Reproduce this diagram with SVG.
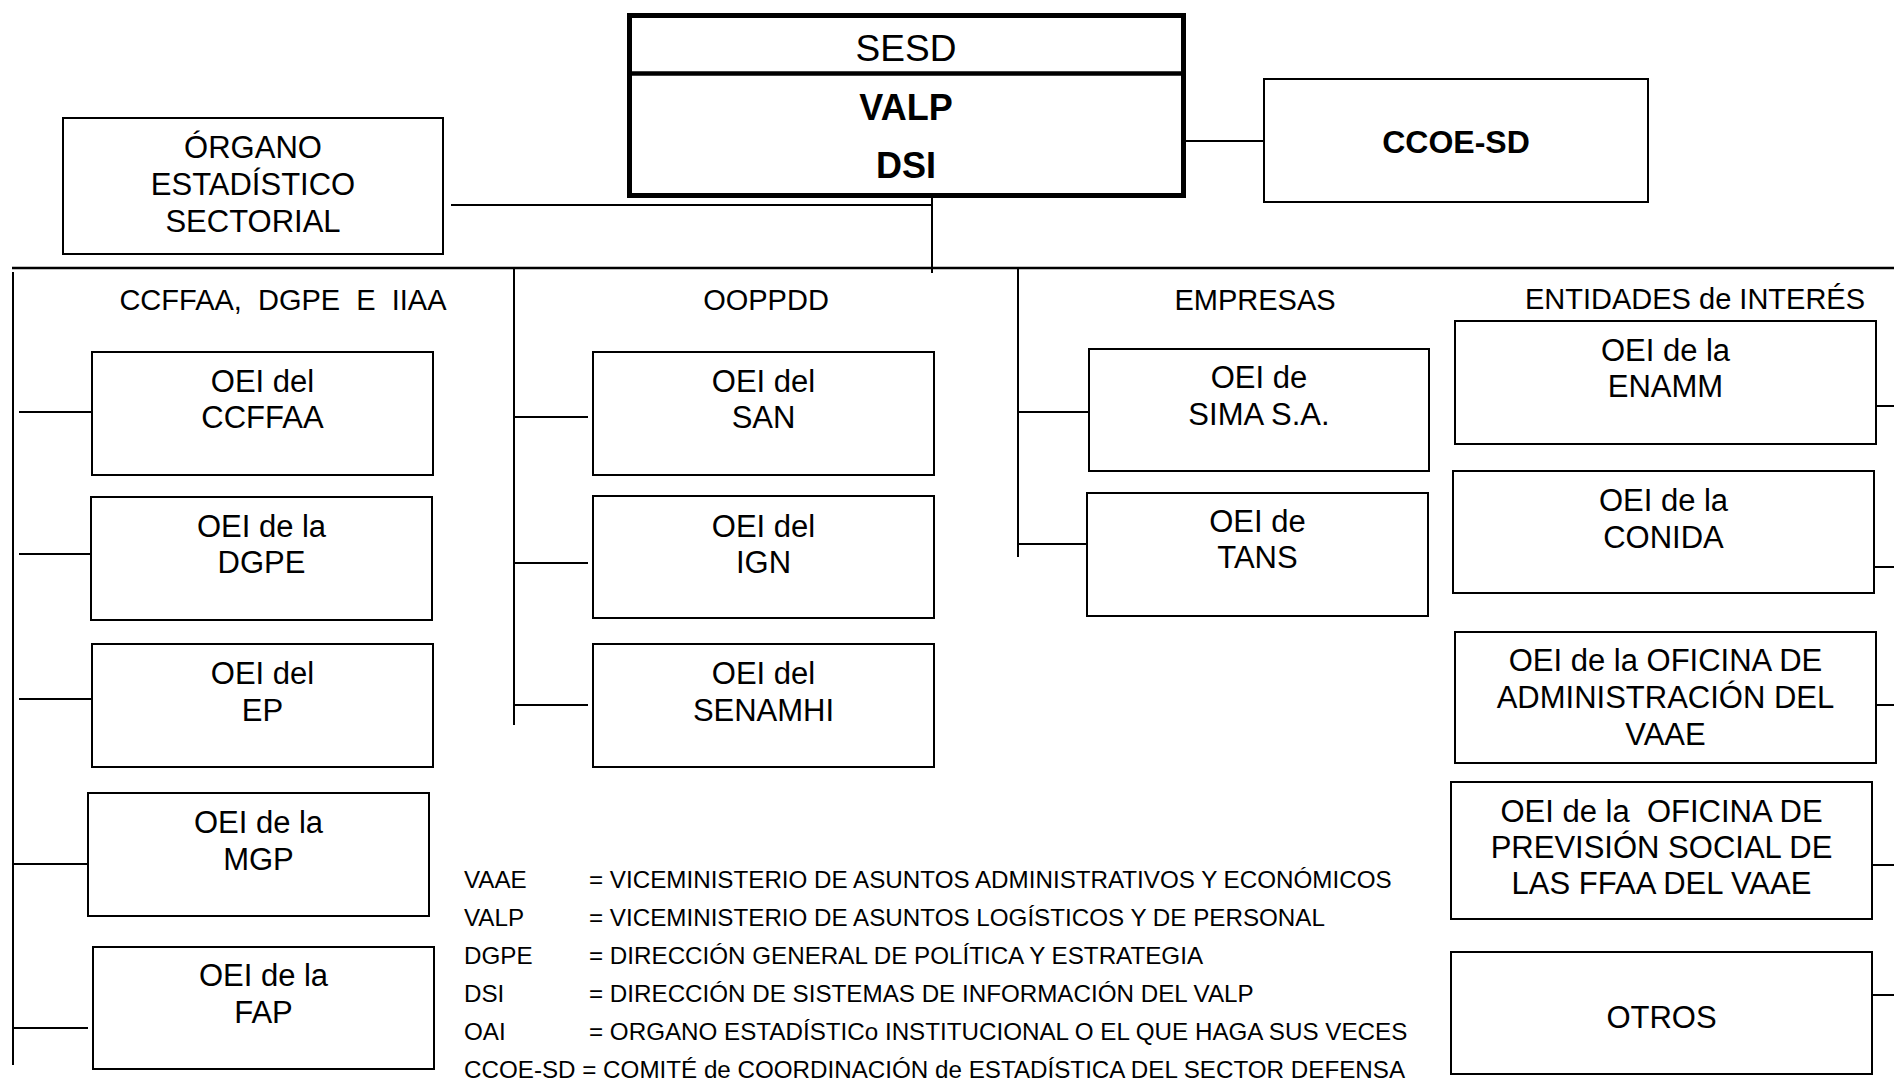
<svg xmlns="http://www.w3.org/2000/svg" width="1894" height="1080" viewBox="0 0 1894 1080">
<style>
  text { font-family: "Liberation Sans", Arial, sans-serif; fill: #000; }
  .box { fill: #fff; stroke: #000; stroke-width: 2; }
  .t { font-size: 31px; text-anchor: middle; }
  .sec { font-size: 29px; text-anchor: middle; white-space: pre; }
  .leg { font-size: 24.2px; white-space: pre; }
  .ln { fill: none; stroke: #000; stroke-width: 2; }
</style>
<rect width="1894" height="1080" fill="#fff"/>

<g id="connectors" class="ln">
  <path d="M451 205 H932"/>
  <path d="M932 197 V273"/>
  <path d="M1186 141 H1264"/>
  <path d="M12 268 H1894" stroke-width="2.5"/>
  <path d="M13 272 V1065"/>
  <path d="M19 412 H92"/>
  <path d="M19 554 H91"/>
  <path d="M19 699 H92"/>
  <path d="M12 864 H88"/>
  <path d="M12 1028 H88"/>
  <path d="M514 268 V725"/>
  <path d="M514 417 H588"/>
  <path d="M514 563 H588"/>
  <path d="M514 705 H588"/>
  <path d="M1018 268 V557"/>
  <path d="M1018 412 H1089"/>
  <path d="M1018 544 H1087"/>
  <path d="M1876 406 H1894"/>
  <path d="M1874 567 H1894"/>
  <path d="M1876 705 H1894"/>
  <path d="M1872 865 H1894"/>
  <path d="M1872 995 H1894"/>
</g>

<g id="organo">
  <rect class="box" x="63" y="118" width="380" height="136"/>
  <text class="t" x="253" y="158">ÓRGANO</text>
  <text class="t" x="253" y="195">ESTADÍSTICO</text>
  <text class="t" x="253" y="232">SECTORIAL</text>
</g>

<g id="sesd">
  <rect x="629.5" y="15.5" width="554" height="180" fill="#fff" stroke="#000" stroke-width="5"/>
  <line x1="629.5" y1="73.5" x2="1183.5" y2="73.5" stroke="#000" stroke-width="4.5"/>
  <text x="906" y="61" font-size="37" text-anchor="middle">SESD</text>
  <text x="906" y="120" font-size="36" font-weight="bold" text-anchor="middle">VALP</text>
  <text x="906" y="178" font-size="36" font-weight="bold" text-anchor="middle">DSI</text>
</g>

<g id="ccoe-sd">
  <rect class="box" x="1264" y="79" width="384" height="123"/>
  <text x="1456" y="153" font-size="32" font-weight="bold" text-anchor="middle">CCOE-SD</text>
</g>

<g id="section-labels">
  <text class="sec" x="283" y="310">CCFFAA,  DGPE  E  IIAA</text>
  <text class="sec" x="766" y="310">OOPPDD</text>
  <text class="sec" x="1255" y="310">EMPRESAS</text>
  <text class="sec" x="1695" y="309">ENTIDADES de INTERÉS</text>
</g>

<g id="oei-ccffaa">
  <rect class="box" x="92" y="352" width="341" height="123"/>
  <text class="t" x="262.5" y="392">OEI del</text>
  <text class="t" x="262.5" y="428">CCFFAA</text>
</g>
<g id="oei-dgpe">
  <rect class="box" x="91" y="497" width="341" height="123"/>
  <text class="t" x="261.5" y="537">OEI de la</text>
  <text class="t" x="261.5" y="573">DGPE</text>
</g>
<g id="oei-ep">
  <rect class="box" x="92" y="644" width="341" height="123"/>
  <text class="t" x="262.5" y="684">OEI del</text>
  <text class="t" x="262.5" y="721">EP</text>
</g>
<g id="oei-mgp">
  <rect class="box" x="88" y="793" width="341" height="123"/>
  <text class="t" x="258.5" y="833">OEI de la</text>
  <text class="t" x="258.5" y="870">MGP</text>
</g>
<g id="oei-fap">
  <rect class="box" x="93" y="947" width="341" height="122"/>
  <text class="t" x="263.5" y="986">OEI de la</text>
  <text class="t" x="263.5" y="1023">FAP</text>
</g>

<g id="oei-san">
  <rect class="box" x="593" y="352" width="341" height="123"/>
  <text class="t" x="763.5" y="392">OEI del</text>
  <text class="t" x="763.5" y="428">SAN</text>
</g>
<g id="oei-ign">
  <rect class="box" x="593" y="496" width="341" height="122"/>
  <text class="t" x="763.5" y="537">OEI del</text>
  <text class="t" x="763.5" y="573">IGN</text>
</g>
<g id="oei-senamhi">
  <rect class="box" x="593" y="644" width="341" height="123"/>
  <text class="t" x="763.5" y="684">OEI del</text>
  <text class="t" x="763.5" y="721">SENAMHI</text>
</g>

<g id="oei-sima">
  <rect class="box" x="1089" y="349" width="340" height="122"/>
  <text class="t" x="1259" y="388">OEI de</text>
  <text class="t" x="1259" y="425">SIMA S.A.</text>
</g>
<g id="oei-tans">
  <rect class="box" x="1087" y="493" width="341" height="123"/>
  <text class="t" x="1257.5" y="532">OEI de</text>
  <text class="t" x="1257.5" y="568">TANS</text>
</g>

<g id="oei-enamm">
  <rect class="box" x="1455" y="321" width="421" height="123"/>
  <text class="t" x="1665.5" y="361">OEI de la</text>
  <text class="t" x="1665.5" y="397">ENAMM</text>
</g>
<g id="oei-conida">
  <rect class="box" x="1453" y="471" width="421" height="122"/>
  <text class="t" x="1663.5" y="511">OEI de la</text>
  <text class="t" x="1663.5" y="548">CONIDA</text>
</g>
<g id="oei-oficina-admin">
  <rect class="box" x="1455" y="632" width="421" height="131"/>
  <text class="t" x="1665.5" y="671">OEI de la OFICINA DE</text>
  <text class="t" x="1665.5" y="708">ADMINISTRACIÓN DEL</text>
  <text class="t" x="1665.5" y="745">VAAE</text>
</g>
<g id="oei-prevision">
  <rect class="box" x="1451" y="782" width="421" height="137"/>
  <text class="t" x="1661.5" y="822" style="white-space:pre">OEI de la  OFICINA DE</text>
  <text class="t" x="1661.5" y="858">PREVISIÓN SOCIAL DE</text>
  <text class="t" x="1661.5" y="894">LAS FFAA DEL VAAE</text>
</g>
<g id="otros">
  <rect class="box" x="1451" y="952" width="421" height="122"/>
  <text class="t" x="1661.5" y="1028">OTROS</text>
</g>

<g id="legend" class="leg">
  <text x="464" y="888">VAAE</text>
  <text x="589" y="888">= VICEMINISTERIO DE ASUNTOS ADMINISTRATIVOS Y ECONÓMICOS</text>
  <text x="464" y="926">VALP</text>
  <text x="589" y="926">= VICEMINISTERIO DE ASUNTOS LOGÍSTICOS Y DE PERSONAL</text>
  <text x="464" y="964">DGPE</text>
  <text x="589" y="964">= DIRECCIÓN GENERAL DE POLÍTICA Y ESTRATEGIA</text>
  <text x="464" y="1002">DSI</text>
  <text x="589" y="1002">= DIRECCIÓN DE SISTEMAS DE INFORMACIÓN DEL VALP</text>
  <text x="464" y="1040">OAI</text>
  <text x="589" y="1040">= ORGANO ESTADÍSTICo INSTITUCIONAL O EL QUE HAGA SUS VECES</text>
  <text x="464" y="1078">CCOE-SD = COMITÉ de COORDINACIÓN de ESTADÍSTICA DEL SECTOR DEFENSA</text>
</g>
</svg>
